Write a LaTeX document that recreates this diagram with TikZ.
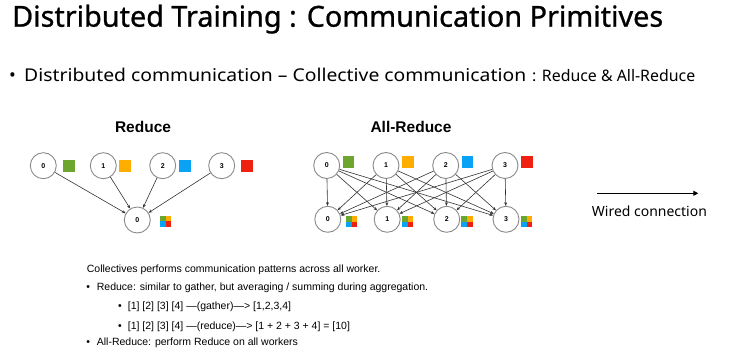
\documentclass[tikz,border=0pt]{standalone}
\usepackage{fontspec}
\setmainfont{Noto Sans}
\newfontfamily\arialf{Liberation Sans}
\newfontfamily\titlef[BoldFont={Noto Sans}, BoldFeatures={FakeBold=0.8}]{Noto Sans}
\usetikzlibrary{arrows.meta}
\definecolor{cgreen}{HTML}{6CA62F}
\definecolor{corange}{HTML}{FFAE00}
\definecolor{cblue}{HTML}{0AA2F5}
\definecolor{cred}{HTML}{EE2010}
\definecolor{cring}{HTML}{8A8A8A}
\newcommand\fitw[2]{\resizebox{#1}{!}{#2}}
\newcommand\mixsq[3]{% name, x, y
  \fill[cgreen]  (#2-5.6,#3-5.6) rectangle (#2,#3);
  \fill[corange] (#2,#3-5.6) rectangle (#2+5.6,#3);
  \fill[cblue]   (#2-5.6,#3) rectangle (#2,#3+5.6);
  \fill[cred]    (#2,#3) rectangle (#2+5.6,#3+5.6);
  \coordinate (#1) at (#2,#3);
}
\begin{document}
\begin{tikzpicture}[x=1pt,y=-1pt,
  worker/.style={circle, draw=cring, line width=0.9pt, minimum size=26pt, inner sep=0pt, fill=white,
    font=\arialf\bfseries\fontsize{7}{8}\selectfont},
  colsq/.style={minimum size=11.7pt, inner sep=0pt, draw=none},
  link/.style={draw=black!80, line width=0.6pt, -{Stealth[length=3.6pt,width=3pt]}},
  dtitle/.style={font=\arialf\bfseries\fontsize{15.5}{18}\selectfont, anchor=base, inner sep=0pt},
  body/.style={font=\arialf\fontsize{10.5}{12}\selectfont, anchor=base west, inner sep=0pt},
  slide/.style={anchor=base west, inner sep=0pt},
]
\useasboundingbox[fill=white] (0,0) rectangle (732,363);

% slide title and bullet
\node[slide] (title) at (12,26.7) {\resizebox{651pt}{22pt}{\titlef\bfseries\fontsize{30}{36}\selectfont Distributed Training : Communication Primitives}};
\node[slide] (bul) at (9,81.7) {\fontsize{18}{22}\selectfont •};
\node[slide] (sub) at (24,81.7) {\resizebox{502pt}{13.4pt}{\fontsize{18}{22}\selectfont Distributed communication – Collective communication}};
\node[slide] (subs) at (532,81.7) {\fitw{163pt}{\fontsize{14}{17}\selectfont : Reduce \& All-Reduce}};

% Reduce
\node[dtitle] (rt) at (143,132.7) {Reduce};
\node[worker] (r0) at (43.3,165.7) {0};
\node[worker] (r1) at (103.3,165.7) {1};
\node[worker] (r2) at (162.7,165.7) {2};
\node[worker] (r3) at (221.7,165.7) {3};
\node[colsq, fill=cgreen]  (rs0) at (69.2,165.8) {};
\node[colsq, fill=corange] (rs1) at (124.8,165.8) {};
\node[colsq, fill=cblue]   (rs2) at (185.3,165.8) {};
\node[colsq, fill=cred]    (rs3) at (246.7,165.8) {};
\node[worker] (rb) at (137.3,220) {0};
\mixsq{rbs}{165.5}{221.2}
\foreach \i in {0,1,2,3} \draw[link] (r\i) -- (rb);

% All-Reduce
\node[dtitle] (at) at (411,133) {All-Reduce};
\node[worker] (t0) at (326.7,165.5) {0};
\node[worker] (t1) at (386,165.5) {1};
\node[worker] (t2) at (445.7,165.5) {2};
\node[worker] (t3) at (505,165.5) {3};
\node[colsq, fill=cgreen]  (ts0) at (348.5,161.9) {};
\node[colsq, fill=corange] (ts1) at (407.8,161.9) {};
\node[colsq, fill=cblue]   (ts2) at (467.5,161.9) {};
\node[colsq, fill=cred]    (ts3) at (526.7,161.9) {};
\node[worker] (b0) at (327.8,219.3) {0};
\node[worker] (b1) at (387.2,219.3) {1};
\node[worker] (b2) at (446.7,219.3) {2};
\node[worker] (b3) at (506,219.3) {3};
\mixsq{bs0}{351.7}{221.7}
\mixsq{bs1}{407.5}{221.7}
\mixsq{bs2}{466.9}{221.7}
\mixsq{bs3}{526.5}{221.7}
\foreach \i in {0,1,2,3} \foreach \j in {0,1,2,3} \draw[link] (t\i) -- (b\j);

% legend
\coordinate (wa) at (597,193.3);
\coordinate (wb) at (698.3,193.3);
\draw[line width=1.5pt, -{Triangle[length=5pt,width=5pt]}] (wa) -- (wb);
\node[slide] (wl) at (591.7,216.5) {\fitw{115pt}{\fontsize{15}{18}\selectfont Wired connection}};

% text block
\node[body] (l1) at (86.7,272.3) {Collectives performs communication patterns across all worker.};
\node[body] (l2b) at (86.2,291) {•};
\node[body] (l2) at (96.7,291) {Reduce: similar to gather, but averaging / summing during aggregation.};
\node[body] (l3b) at (118,310) {•};
\node[body] (l3) at (127.7,310) {[1] [2] [3] [4] —(gather)—> [1,2,3,4]};
\node[body] (l4b) at (118,329.7) {•};
\node[body] (l4) at (127.7,329.7) {[1] [2] [3] [4] —(reduce)—> [1 + 2 + 3 + 4] = [10]};
\node[body] (l5b) at (86.2,345.3) {•};
\node[body] (l5) at (96.7,345.3) {All-Reduce: perform Reduce on all workers};
\end{tikzpicture}
\end{document}
